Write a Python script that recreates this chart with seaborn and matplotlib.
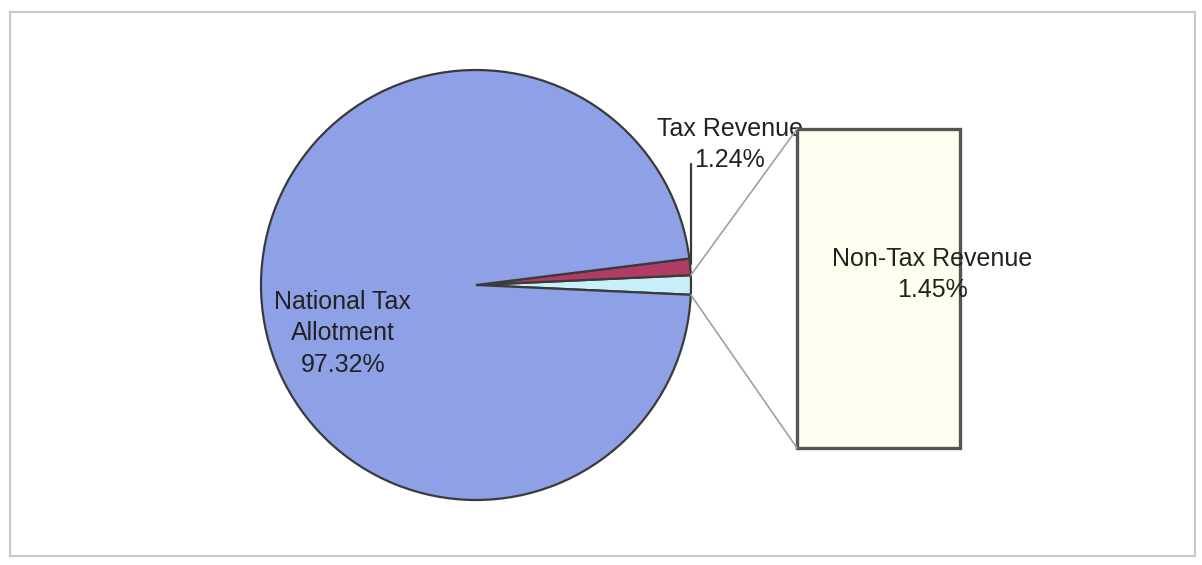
import matplotlib
matplotlib.use("Agg")
import matplotlib.pyplot as plt
import seaborn as sns
import pandas as pd
import numpy as np
from matplotlib.patches import ConnectionPatch, Rectangle

sns.set_theme(style="white")
plt.rcParams['font.family'] = ['Liberation Sans', 'DejaVu Sans']

# Data
pie_labels = ["Non-Tax Revenue", "Tax Revenue", "National Tax Allotment"]
pie_values = [1.45, 1.24, 97.32]
pie_colors = ["#c8f0f8", "#b03c64", "#8ea0e6"]
bar_labels = ["Non-Tax Revenue"]
bar_values = [1.45]

W, H = 1202, 565
fig = plt.figure(figsize=(W / 100, H / 100), dpi=100)

# outer frame
fig.patches.append(Rectangle((10 / W, 9 / H), 1185 / W, 544 / H, transform=fig.transFigure,
                             fill=False, edgecolor="#c8c8c8", linewidth=1.5))

# Pie axes
cx, cy, r = 476, 285, 215
ax = fig.add_axes([(cx - r) / W, (H - cy - r) / H, 2 * r / W, 2 * r / H])
start = -pie_values[0] / 100 * 360 / 2
wedges, _ = ax.pie(pie_values, colors=pie_colors, startangle=start, counterclock=True,
                   radius=1, wedgeprops=dict(edgecolor="#3a3a3a", linewidth=1.6))
for wd in wedges:
    wd.set_clip_on(False)
ax.set_xlim(-1.0, 1.0)
ax.set_ylim(-1.0, 1.0)
ax.set_aspect("equal")
ax.axis("off")

txtc = "#222222"
ax.text(-0.62, -0.225, f"National Tax\nAllotment\n{pie_values[2]:.2f}%", ha="center", va="center",
        fontsize=18, color=txtc, linespacing=1.38)
ax.text(1.18, 0.655, f"{pie_labels[1]}\n{pie_values[1]:.2f}%", ha="center", va="center",
        fontsize=18, color=txtc, linespacing=1.38, zorder=1)
ax.plot([1.0, 1.0], [0.565, 0.1], color="#3a3a3a", linewidth=1.6, clip_on=False)

# Bar axes
bx0, bx1, by0, by1 = 797, 960, 129, 448
bax = fig.add_axes([bx0 / W, (H - by1) / H, (bx1 - bx0) / W, (by1 - by0) / H])
df = pd.DataFrame({"label": bar_labels, "value": bar_values})
sns.barplot(data=df, x="label", y="value", ax=bax, color="#fffff0", width=1.0,
            edgecolor="#555555", linewidth=2.4, saturation=1)
for p in bax.patches:
    p.set_clip_on(False)
bax.set_xlim(-0.5, 0.5)
bax.set_ylim(0, bar_values[0])
bax.axis("off")
bax.text(0.83, 0.545, f"{bar_labels[0]}\n{bar_values[0]:.2f}%", transform=bax.transAxes,
         ha="center", va="center", fontsize=18, color=txtc, linespacing=1.38, zorder=5)

# connection lines
w = wedges[0]
for ang, yb in [(w.theta2, bar_values[0]), (w.theta1, 0)]:
    xa, ya = np.cos(np.radians(ang)), np.sin(np.radians(ang))
    con = ConnectionPatch(xyA=(xa, ya), coordsA=ax.transData, xyB=(-0.5, yb),
                          coordsB=bax.transData, color="#a0a0a0", linewidth=1.2)
    fig.add_artist(con)

fig.savefig("out.png", dpi=100)
